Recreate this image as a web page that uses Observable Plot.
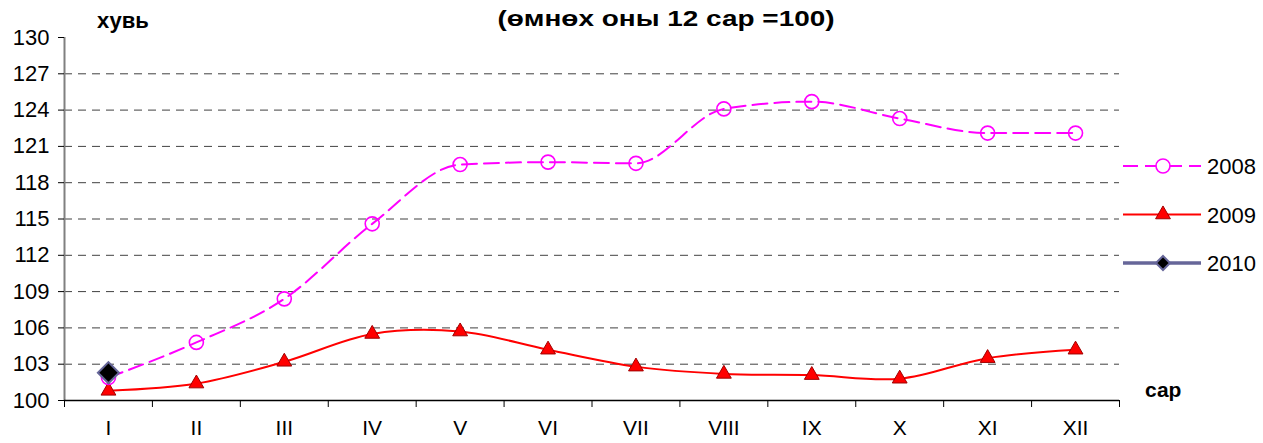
<!DOCTYPE html>
<html>
<head>
<meta charset="utf-8">
<script src="https://cdn.jsdelivr.net/npm/d3@7"></script>
<script src="https://cdn.jsdelivr.net/npm/@observablehq/plot@0.6"></script>
<style>
  body { margin: 0; background: #fff; font-family: "Liberation Sans", Arial, sans-serif; }
  #wrap { position: relative; width: 1263px; height: 443px; overflow: hidden; }
  .lbl { position: absolute; font-weight: bold; color: #000; white-space: nowrap; line-height: 1; }
  #legend { position: absolute; left: 1118px; top: 140px; }
</style>
</head>
<body>
<div id="wrap">
  <div id="chart" style="position:absolute;left:0;top:0;"></div>
  <div class="lbl" id="title" style="left:666px;top:8px;font-size:22px;transform:translateX(-50%) scaleX(1.27);">(өмнөх оны 12 сар =100)</div>
  <div class="lbl" style="left:97px;top:10px;font-size:22px;">хувь</div>
  <div class="lbl" style="left:1145px;top:379px;font-size:21px;">сар</div>
  <svg id="legend" width="145" height="140"></svg>
</div>
<script>
const months = ["I","II","III","IV","V","VI","VII","VIII","IX","X","XI","XII"];
const values2008 = [101.9, 104.8, 108.4, 114.6, 119.5, 119.7, 119.6, 124.1, 124.7, 123.3, 122.1, 122.1];
const values2009 = [100.8, 101.4, 103.2, 105.5, 105.7, 104.2, 102.8, 102.2, 102.1, 101.8, 103.5, 104.2];
const values2010 = [102.3];
const yTicks = [100, 103, 106, 109, 112, 115, 118, 121, 124, 127, 130];
const seriesNames = ["2008", "2009", "2010"];

const toRows = (vals) => vals.map((v, i) => ({x: i + 0.5, y: v, m: months[i]}));
const d2008 = toRows(values2008);
const d2009 = toRows(values2009);
const d2010 = toRows(values2010);

const font = '"Liberation Sans", Arial, sans-serif';

const chart = Plot.plot({
  width: 1263,
  height: 443,
  marginLeft: 64,
  marginRight: 144,
  marginTop: 37,
  marginBottom: 43,
  style: {fontFamily: font, fontSize: "22px", color: "#000", background: "transparent", overflow: "visible"},
  x: {type: "linear", domain: [0, 12]},
  y: {domain: [100, 130]},
  marks: [
    Plot.ruleY(yTicks.filter(t => t > 100 && t < 130), {stroke: "#000", strokeOpacity: 0.75, strokeDasharray: "8,6", strokeWidth: 1}),
    Plot.ruleX([0], {stroke: "#808080", strokeWidth: 2}),
    Plot.axisY({ticks: yTicks, tickSize: 6, tickPadding: 9, tickFormat: d => d, label: null, fontSize: 22}),
    Plot.axisX({ticks: d3.range(0, 13), tickSize: 7, tickFormat: () => "", label: null}),
    Plot.axisX({ticks: months.map((m, i) => i + 0.5), tickSize: 0, tickPadding: 20, tickFormat: d => months[Math.floor(d)], label: null, fontSize: 21}),
    Plot.ruleY([100], {stroke: "#000", strokeWidth: 1.5}),
    Plot.line(d2009, {x: "x", y: "y", stroke: "#FF0000", strokeWidth: 2, curve: "catmull-rom"}),
    Plot.dot(d2009, {x: "x", y: "y", symbol: "triangle", r: 5.5, fill: "#FF0000", stroke: "#A00000", strokeWidth: 1}),
    Plot.line(d2008, {x: "x", y: "y", stroke: "#FF00FF", strokeWidth: 2, strokeDasharray: "15,7", curve: "monotone-x"}),
    Plot.dot(d2008, {x: "x", y: "y", r: 7, fill: "none", stroke: "#FF00FF", strokeWidth: 1.6}),
    Plot.line(d2010, {x: "x", y: "y", stroke: "#666699", strokeWidth: 3}),
    Plot.dot(d2010, {x: "x", y: "y", symbol: "diamond2", r: 9.5, fill: "#000", stroke: "#666699", strokeWidth: 2})
  ]
});
document.getElementById("chart").appendChild(chart);

// Legend
const lg = d3.select("#legend");
const styles = [
  {stroke: "#FF00FF", dash: "15,7", width: 2, sym: "circle"},
  {stroke: "#FF0000", dash: null, width: 2, sym: "triangle"},
  {stroke: "#666699", dash: null, width: 3.5, sym: "diamond"}
];
seriesNames.forEach((name, i) => {
  const y = 26 + i * 48.5;
  const s = styles[i];
  const g = lg.append("g");
  g.append("line").attr("x1", 5).attr("x2", 83).attr("y1", y).attr("y2", y)
    .attr("stroke", s.stroke).attr("stroke-width", s.width)
    .attr("stroke-dasharray", s.dash);
  const cx = 45;
  if (s.sym === "circle") {
    g.append("circle").attr("cx", cx).attr("cy", y).attr("r", 7)
      .attr("fill", "#fff").attr("stroke", "#FF00FF").attr("stroke-width", 1.6);
  } else if (s.sym === "triangle") {
    g.append("path").attr("d", d3.symbol(d3.symbolTriangle, 95)()).attr("transform", `translate(${cx},${y})`)
      .attr("fill", "#FF0000").attr("stroke", "#A00000");
  } else {
    g.append("path").attr("d", `M${cx},${y-7}L${cx+7},${y}L${cx},${y+7}L${cx-7},${y}Z`)
      .attr("fill", "#000").attr("stroke", "#666699").attr("stroke-width", 2);
  }
  g.append("text").attr("x", 89).attr("y", y + 8).attr("font-size", 22)
    .attr("font-family", font).attr("fill", "#000").text(name);
});
</script>
</body>
</html>
